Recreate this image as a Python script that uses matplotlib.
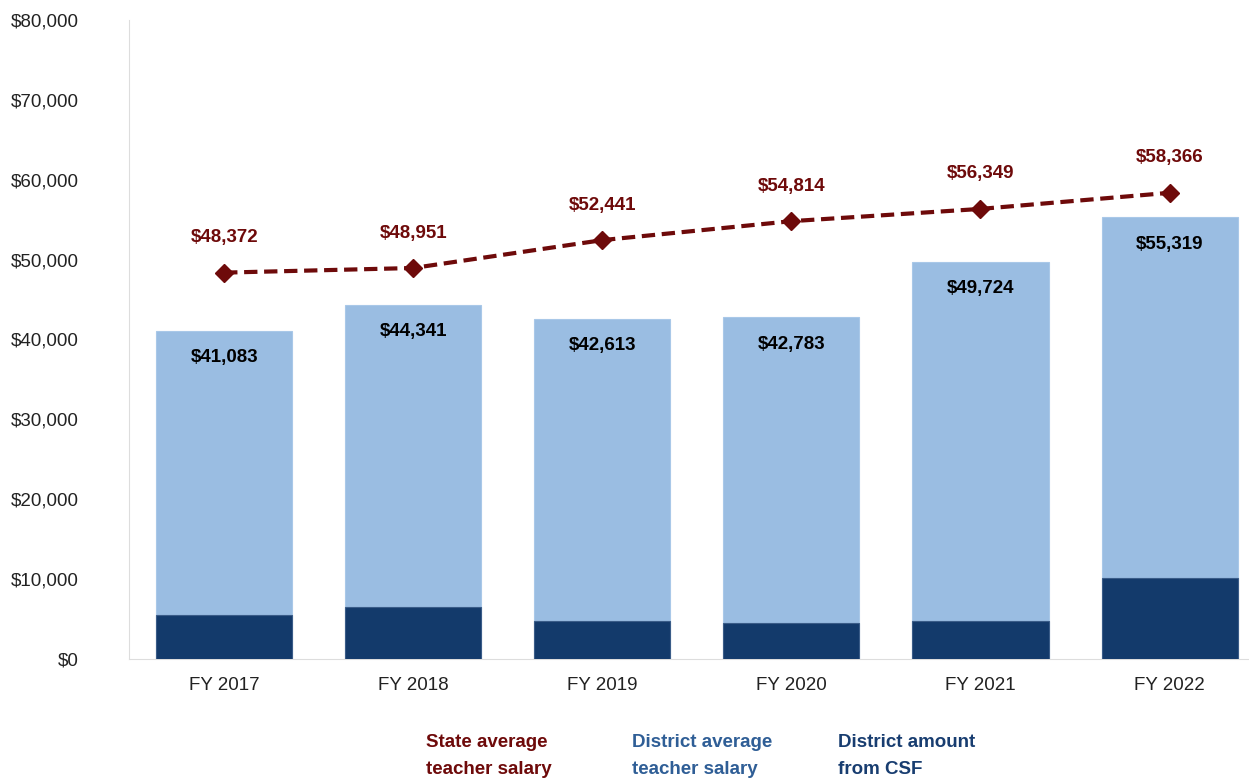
import matplotlib
matplotlib.use("Agg")
import matplotlib.pyplot as plt
from matplotlib.ticker import FuncFormatter, MultipleLocator

plt.rcParams['font.family'] = ['Liberation Sans', 'DejaVu Sans']

years = ["FY 2017", "FY 2018", "FY 2019", "FY 2020", "FY 2021", "FY 2022"]
state_avg = [48372, 48951, 52441, 54814, 56349, 58366]
district_avg = [41083, 44341, 42613, 42783, 49724, 55319]
csf_amount = [5550, 6500, 4750, 4550, 4750, 10200]

c_state = "#6E0A0A"
c_light = "#9ABDE2"
c_dark = "#133A6B"

fig = plt.figure(figsize=(12.49, 7.8), dpi=100)
ax = fig.add_axes([129/1249, 1-659/780, 1-129/1249, (659-20)/780])

x = list(range(len(years)))
w = 0.72
ax.bar(x, district_avg, width=w, color=c_light, edgecolor="#A9C8E8", linewidth=0.8, zorder=2)
ax.bar(x, csf_amount, width=w, color=c_dark, edgecolor="#3A5C88", linewidth=0.8, zorder=3)
ax.plot(x, state_avg, color=c_state, linestyle=(0, (3.2, 1.6)), linewidth=3,
        marker="D", markersize=9, zorder=4)

for xi, v in zip(x, district_avg):
    ax.annotate(f"${v:,}", (xi, v), xytext=(0, -27), textcoords="offset pixels",
                ha="center", va="center", fontsize=13.5, fontweight="bold", color="black", zorder=5)
for xi, v in zip(x, state_avg):
    ax.annotate(f"${v:,}", (xi, v), xytext=(0, 35), textcoords="offset pixels",
                ha="center", va="center", fontsize=13.5, fontweight="bold", color=c_state, zorder=5)

ax.set_xlim(-0.503, 5.42)
ax.set_ylim(0, 80000)
ax.yaxis.set_major_locator(MultipleLocator(10000))
ax.yaxis.set_major_formatter(FuncFormatter(lambda v, p: f"${v:,.0f}"))
ax.set_xticks(x)
ax.set_xticklabels(years)
ax.tick_params(axis="both", length=0, labelsize=13.5, colors="#222222")
ax.tick_params(axis="y", pad=36)
ax.tick_params(axis="x", pad=13)
for s in ["top", "right"]:
    ax.spines[s].set_visible(False)
ax.spines["left"].set_color("#DDDDDD")
ax.spines["bottom"].set_color("#DDDDDD")

leg = [("State average\nteacher salary", c_state, 426),
       ("District average\nteacher salary", "#2F5E96", 632),
       ("District amount\nfrom CSF", "#183D70", 838)]
for t, c, px in leg:
    fig.text(px/1249, 1-734/780, t, ha="left", va="top", fontsize=13.5,
             fontweight="bold", color=c, linespacing=1.75)

fig.savefig("out.png", dpi=100)
